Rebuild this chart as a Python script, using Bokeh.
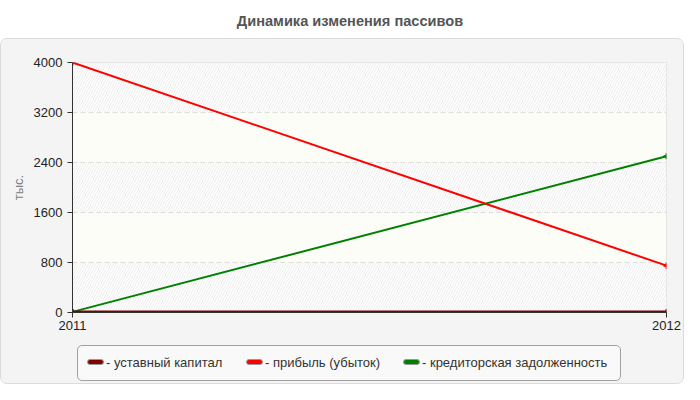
from bokeh.plotting import figure
from bokeh.layouts import column
from bokeh.models import Range1d, FixedTicker, Div
from bokeh.embed import file_html
from bokeh.resources import INLINE

# ---- data ----
title_text = "Динамика изменения пассивов"
y_label = "тыс."
years = [2011, 2012]
y_ticks = [0, 800, 1600, 2400, 3200, 4000]
series_names = ["уставный капитал", "прибыль (убыток)", "кредиторская задолженность"]
ustavny = [10, 10]
pribyl = [4000, 750]
kredit = [10, 2500]
colors = ["#800000", "#ff0000", "#008000"]

# ---- layout / style constants (pixels) ----
FONT = "Liberation Sans"
CSS_FONT = "'Liberation Sans', Arial, sans-serif"
legend_item_x = [9, 168, 325]     # item left edges inside the legend box

title_div = Div(text=title_text, width=684, height=38, margin=0,
                styles={"text-align": "center", "font-family": CSS_FONT,
                        "font-size": "14.6px", "font-weight": "bold", "color": "#555555",
                        "line-height": "42px", "text-indent": "16px", "background": "white"})

p = figure(width=682, height=300, output_backend="svg", toolbar_location=None,
           x_range=Range1d(years[0], years[-1]), y_range=Range1d(y_ticks[0], y_ticks[-1]),
           min_border_left=71, min_border_right=17, min_border_top=23, min_border_bottom=27,
           border_fill_color="#f4f4f4", background_fill_color="#fdfdf7",
           outline_line_color="#dddddd", margin=0)

# alternating bands
band_bottom = y_ticks[:-1]
band_top = y_ticks[1:]
p.quad(left=years[0], right=years[-1], bottom=band_bottom[0::2], top=band_top[0::2],
       fill_color="white", line_color=None, hatch_pattern="/", hatch_color="#ececec",
       hatch_scale=5, hatch_weight=1, level="underlay")
p.quad(left=years[0], right=years[-1], bottom=band_bottom[1::2], top=band_top[1::2],
       fill_color="#fdfdf7", line_color=None, level="underlay")

# grid
p.xgrid.visible = False
p.ygrid.ticker = FixedTicker(ticks=y_ticks[1:-1])
p.ygrid.grid_line_color = "#dddddd"
p.ygrid.grid_line_dash = "5 3"

# axes
p.yaxis.ticker = FixedTicker(ticks=y_ticks)
p.xaxis.ticker = FixedTicker(ticks=years)
for ax in (p.xaxis[0], p.yaxis[0]):
    ax.major_tick_in = 0
    ax.major_tick_out = 5
    ax.minor_tick_line_color = None
    ax.axis_line_color = "#333333"
    ax.major_tick_line_color = "#333333"
    ax.major_label_text_font = FONT
    ax.major_label_text_font_size = "13px"
    ax.major_label_text_color = "#222222"
p.xaxis.major_label_standoff = 3
p.yaxis.axis_label = y_label
p.yaxis.axis_label_text_font = FONT
p.yaxis.axis_label_text_font_size = "13px"
p.yaxis.axis_label_text_font_style = "normal"
p.yaxis.axis_label_text_color = "#808080"
p.yaxis.axis_label_standoff = 5

# series lines
series_vals = [ustavny, pribyl, kredit]
widths = [3, 2, 2]
order = [2, 1, 0]
for i in order:
    p.line(years, series_vals[i], line_color=colors[i], line_width=widths[i])
    p.scatter(years, series_vals[i], marker="cross", size=6, line_width=2,
              line_color=colors[i])

# legend as an HTML box built from the series lists
item_html = []
for x, name, c in zip(legend_item_x, series_names, colors):
    swatch = ('<span style="display:inline-block;width:17px;height:6px;background:%s;'
              'border:1px solid #999999;border-radius:3px;vertical-align:middle;'
              'position:relative;top:-2px;margin-right:2px"></span>' % c)
    item_html.append('<div style="position:absolute;left:%dpx;top:0;height:36px;'
                     'line-height:33px;white-space:nowrap">%s- %s</div>' % (x, swatch, name))
legend_div = Div(text='<div style="position:relative;width:544px;height:36px">'
                      + "".join(item_html) + "</div>",
                 width=544, height=36, margin=(6, 0, 2, 76),
                 styles={"border": "1px solid #a0a0a0", "border-radius": "5px",
                         "background": "#f9f9f9", "font-family": CSS_FONT,
                         "font-size": "13px", "color": "#333333", "overflow": "hidden"})

panel = column(p, legend_div, spacing=0, margin=0,
               styles={"background": "#f4f4f4", "border": "1px solid #dcdcdc",
                       "border-radius": "7px", "overflow": "hidden"})

layout = column(title_div, panel, spacing=0, margin=0)
open("out.html", "w").write(file_html(layout, INLINE))
